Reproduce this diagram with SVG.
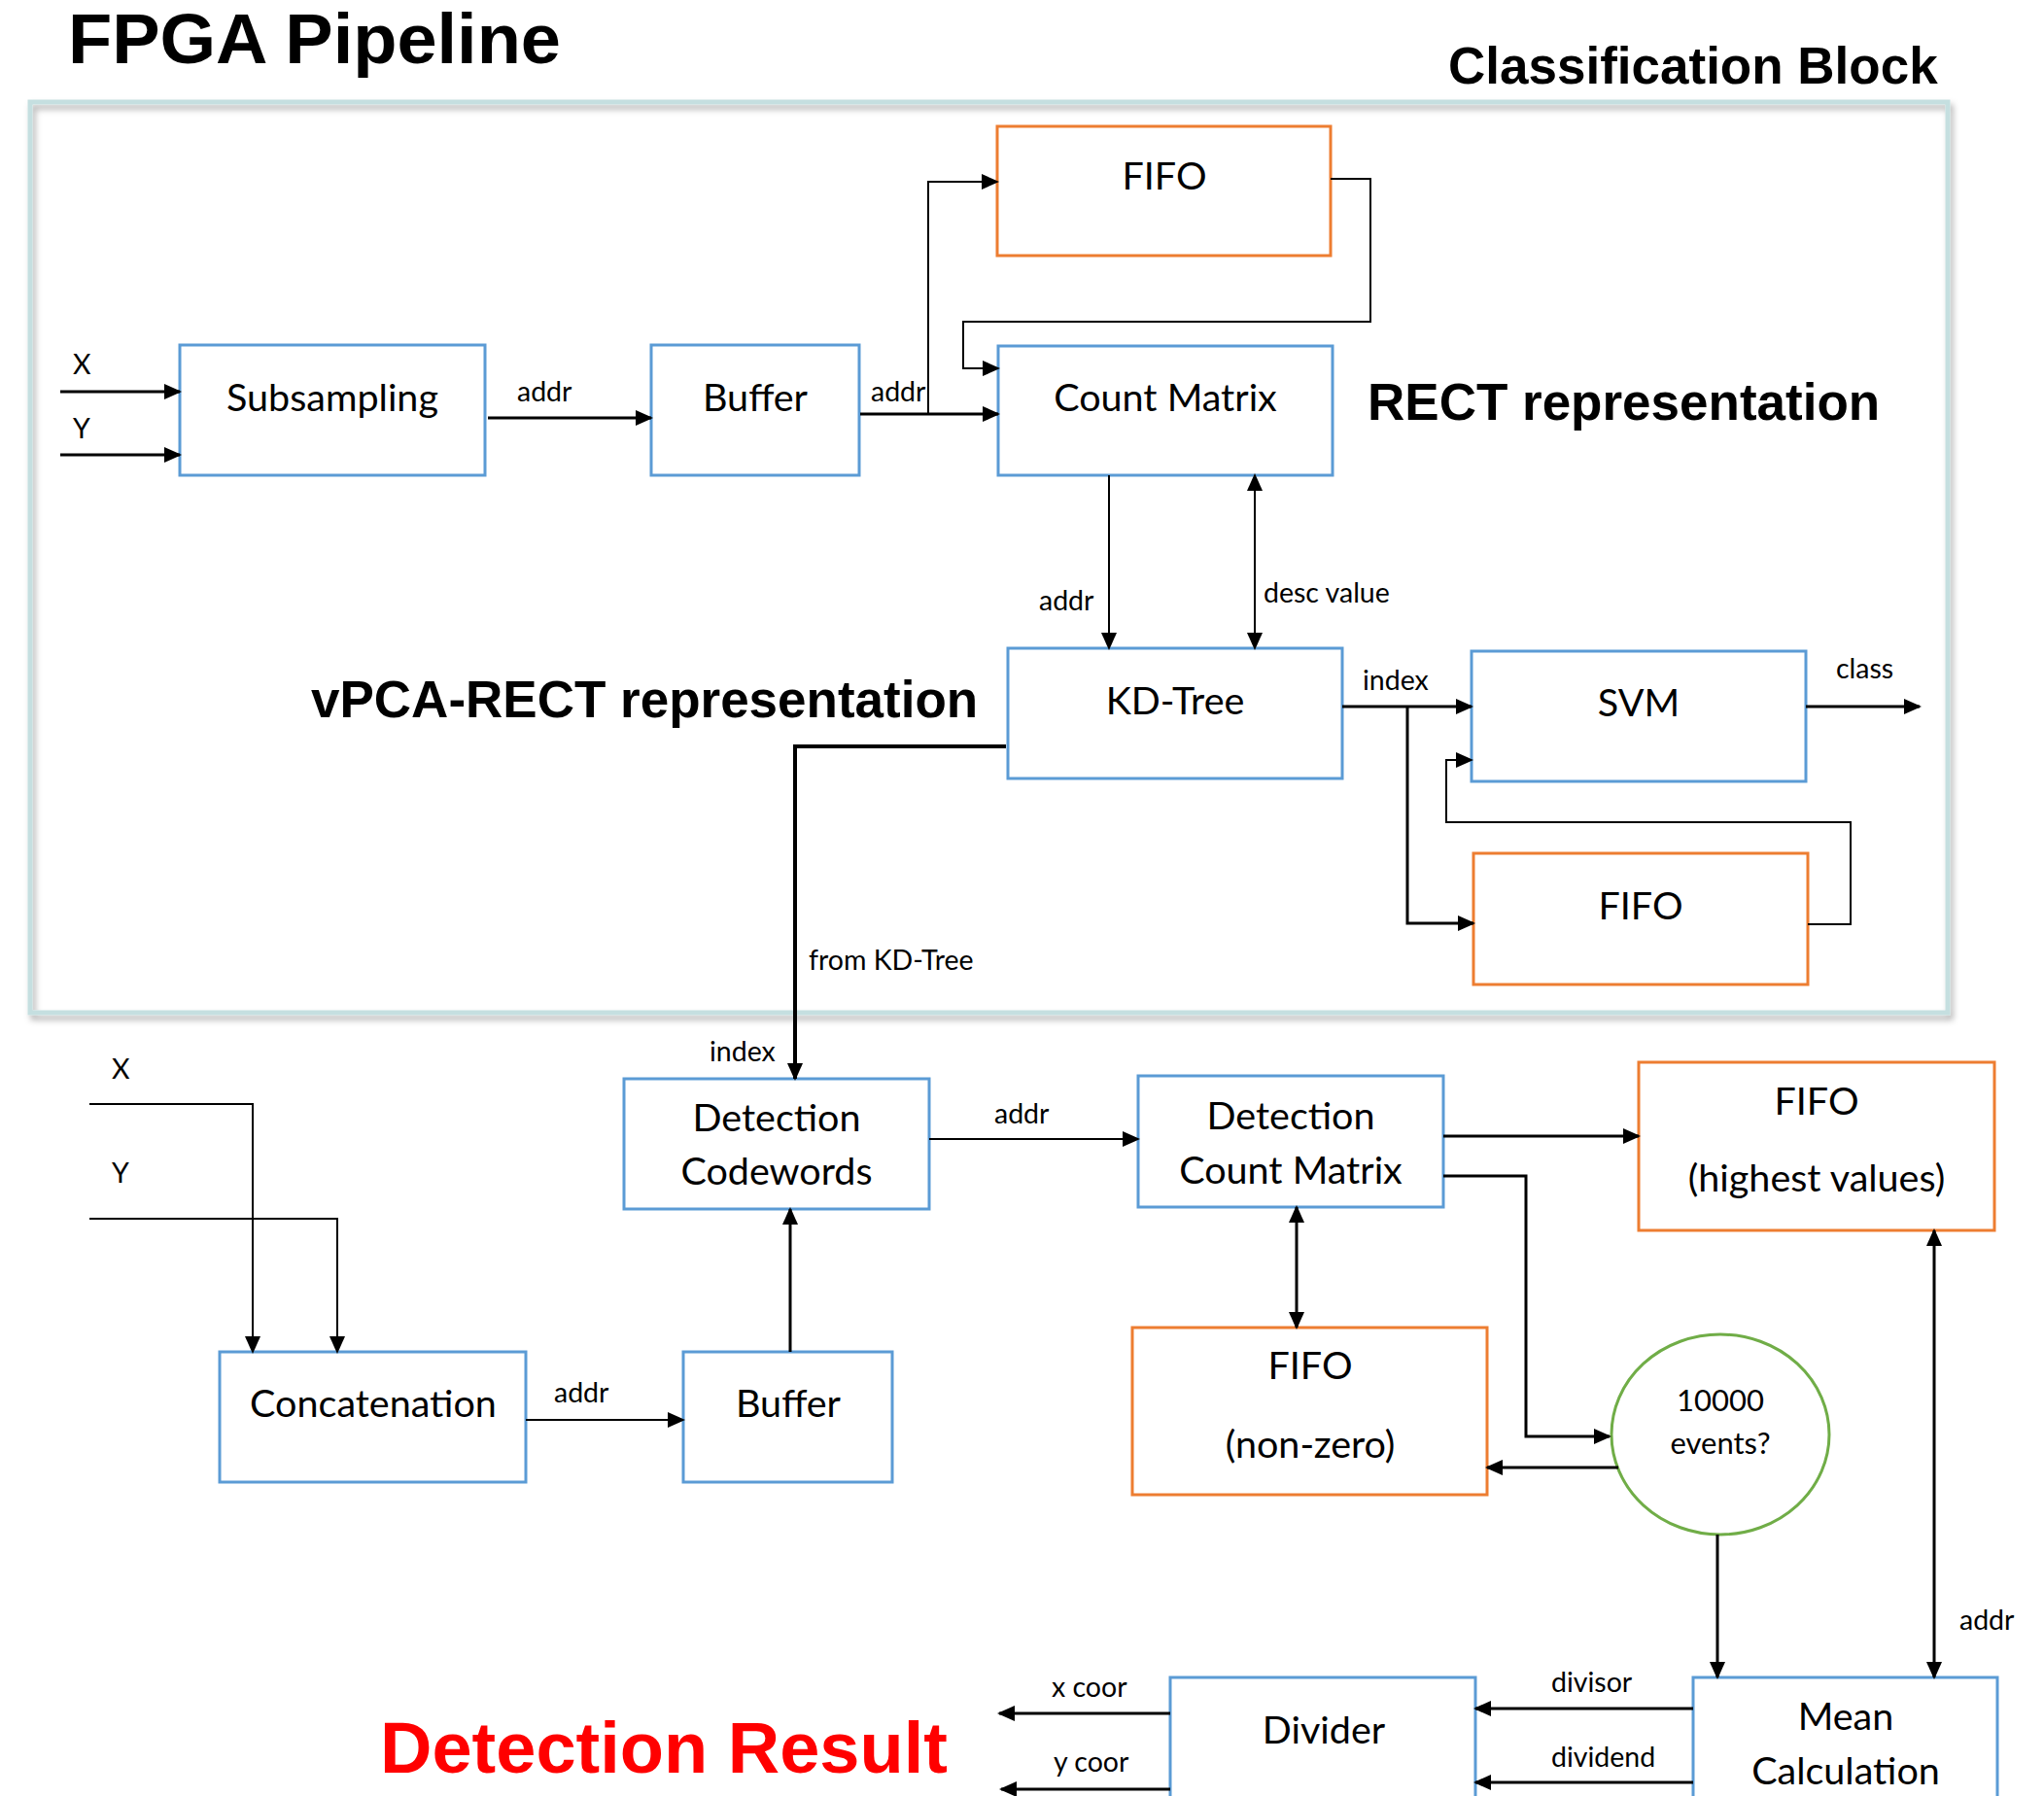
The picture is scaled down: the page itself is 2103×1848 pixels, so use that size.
<svg xmlns="http://www.w3.org/2000/svg" width="2103" height="1848" viewBox="0 0 2103 1848">
<style>
.box{fill:#fff;stroke:#5b9bd5;stroke-width:3}
.fifo{fill:#fff;stroke:#ed7d31;stroke-width:3}
.ell{fill:#fff;stroke:#70ad47;stroke-width:3}
.lbl{font-family:Lato,"Liberation Sans",sans-serif;font-size:39.5px;fill:#000;text-anchor:middle}
.sm{font-family:Lato,"Liberation Sans",sans-serif;font-size:28.5px;fill:#000}
.ev{font-family:Lato,"Liberation Sans",sans-serif;font-size:31px;fill:#000;text-anchor:middle}
.hd{font-family:"Liberation Sans",Arial,sans-serif;font-weight:bold;fill:#000}
.c{fill:none;stroke:#000;stroke-width:3}
.t{stroke-width:2}
.k{stroke-width:4}
.a{marker-end:url(#ah)}
.d{marker-start:url(#ah);marker-end:url(#ah)}
</style>
<defs>
<marker id="ah" markerUnits="userSpaceOnUse" markerWidth="18" markerHeight="16" refX="16" refY="8" orient="auto-start-reverse">
<path d="M0,0 L18,8 L0,16 z" fill="#000"/>
</marker>
<filter id="sh" x="-5%" y="-5%" width="110%" height="110%">
<feDropShadow dx="3" dy="5" stdDeviation="3" flood-color="#000" flood-opacity="0.3"/>
</filter>
</defs>
<rect width="2103" height="1848" fill="#fff"/>

<g id="titles">
<text class="hd" x="70" y="65" font-size="71.5" textLength="507" lengthAdjust="spacingAndGlyphs">FPGA Pipeline</text>
<text class="hd" x="1490" y="86" font-size="53">Classification Block</text>
<text class="hd" x="1407" y="432" font-size="53">RECT representation</text>
<text class="hd" x="320" y="738" font-size="53">vPCA-RECT representation</text>
<text class="hd" x="391" y="1824" font-size="74" style="fill:#ff0000">Detection Result</text>
</g>

<g id="classification-block">
<rect x="31" y="105" width="1973" height="937" fill="none" stroke="#c5dfe0" stroke-width="5" filter="url(#sh)"/>
</g>

<g id="subsampling"><rect class="box" x="185" y="355" width="314" height="134"/><text class="lbl" x="342" y="423">Subsampling</text></g>
<g id="buffer-top"><rect class="box" x="670" y="355" width="214" height="134"/><text class="lbl" x="777" y="423">Buffer</text></g>
<g id="fifo-top"><rect class="fifo" x="1026" y="130" width="343" height="133"/><text class="lbl" x="1198" y="195">FIFO</text></g>
<g id="count-matrix"><rect class="box" x="1027" y="356" width="344" height="133"/><text class="lbl" x="1199" y="423">Count Matrix</text></g>
<g id="kd-tree"><rect class="box" x="1037" y="667" width="344" height="134"/><text class="lbl" x="1209" y="735">KD-Tree</text></g>
<g id="svm"><rect class="box" x="1514" y="670" width="344" height="134"/><text class="lbl" x="1686" y="737">SVM</text></g>
<g id="fifo-svm"><rect class="fifo" x="1516" y="878" width="344" height="135"/><text class="lbl" x="1688" y="946">FIFO</text></g>

<g id="detection-codewords"><rect class="box" x="642" y="1110" width="314" height="134"/><text class="lbl" x="799" y="1164">Detection</text><text class="lbl" x="799" y="1219">Codewords</text></g>
<g id="detection-count-matrix"><rect class="box" x="1171" y="1107" width="314" height="135"/><text class="lbl" x="1328" y="1162">Detection</text><text class="lbl" x="1328" y="1218">Count Matrix</text></g>
<g id="fifo-highest"><rect class="fifo" x="1686" y="1093" width="366" height="173"/><text class="lbl" x="1869" y="1147">FIFO</text><text class="lbl" x="1869" y="1226">(highest values)</text></g>
<g id="fifo-nonzero"><rect class="fifo" x="1165" y="1366" width="365" height="172"/><text class="lbl" x="1348" y="1419">FIFO</text><text class="lbl" x="1348" y="1500">(non-zero)</text></g>
<g id="events-check"><ellipse class="ell" cx="1770" cy="1476" rx="112" ry="103"/><text class="ev" x="1770" y="1452">10000</text><text class="ev" x="1770" y="1496">events?</text></g>
<g id="concatenation"><rect class="box" x="226" y="1391" width="315" height="134"/><text class="lbl" x="384" y="1458">Concatenation</text></g>
<g id="buffer-bottom"><rect class="box" x="703" y="1391" width="215" height="134"/><text class="lbl" x="811" y="1458">Buffer</text></g>
<g id="mean-calculation"><rect class="box" x="1742" y="1726" width="313" height="140"/><text class="lbl" x="1899" y="1780">Mean</text><text class="lbl" x="1899" y="1836">Calculation</text></g>
<g id="divider"><rect class="box" x="1204" y="1726" width="314" height="140"/><text class="lbl" x="1362" y="1794">Divider</text></g>

<g id="connectors">
<path class="c a" d="M62,403 H185"/>
<path class="c a" d="M62,468 H185"/>
<path class="c a" d="M502,430 H670"/>
<path class="c a" d="M885,426 H1027"/>
<path class="c t a" d="M955,426 V187 H1026"/>
<path class="c t a" d="M1369,184 H1410 V331 H991 V379 H1027"/>
<path class="c t a" d="M1141,489 V667"/>
<path class="c t d" d="M1291,489 V667"/>
<path class="c a" d="M1381,727 H1514"/>
<path class="c a" d="M1858,727 H1975"/>
<path class="c a" d="M1448,727 V950 H1516"/>
<path class="c t a" d="M1860,951 H1904 V846 H1488 V782 H1514"/>
<path class="c k a" d="M1035,768 H818 V1110"/>
<path class="c t a" d="M92,1136 H260 V1391"/>
<path class="c t a" d="M92,1254 H347 V1391"/>
<path class="c t a" d="M541,1461 H703"/>
<path class="c a" d="M813,1391 V1244"/>
<path class="c t a" d="M956,1172 H1171"/>
<path class="c a" d="M1485,1169 H1686"/>
<path class="c a" d="M1485,1210 H1570 V1478 H1656"/>
<path class="c d" d="M1334,1242 V1366"/>
<path class="c a" d="M1665,1510 H1530"/>
<path class="c a" d="M1767,1579 V1726"/>
<path class="c d" d="M1990,1266 V1726"/>
<path class="c a" d="M1742,1758 H1518"/>
<path class="c a" d="M1742,1834 H1518"/>
<path class="c a" d="M1204,1763 H1028"/>
<path class="c a" d="M1204,1841 H1030"/>
</g>

<g id="connector-labels">
<text class="sm" x="75" y="385">X</text>
<text class="sm" x="75" y="451">Y</text>
<text class="sm" x="532" y="413">addr</text>
<text class="sm" x="896" y="413">addr</text>
<text class="sm" x="1069" y="628">addr</text>
<text class="sm" x="1300" y="620">desc value</text>
<text class="sm" x="1402" y="710">index</text>
<text class="sm" x="1889" y="698">class</text>
<text class="sm" x="832" y="998">from KD-Tree</text>
<text class="sm" x="730" y="1092">index</text>
<text class="sm" x="1023" y="1156">addr</text>
<text class="sm" x="115" y="1110">X</text>
<text class="sm" x="115" y="1217">Y</text>
<text class="sm" x="570" y="1443">addr</text>
<text class="sm" x="2016" y="1677">addr</text>
<text class="sm" x="1596" y="1741">divisor</text>
<text class="sm" x="1596" y="1818">dividend</text>
<text class="sm" x="1082" y="1746">x coor</text>
<text class="sm" x="1084" y="1823">y coor</text>
</g>
</svg>
